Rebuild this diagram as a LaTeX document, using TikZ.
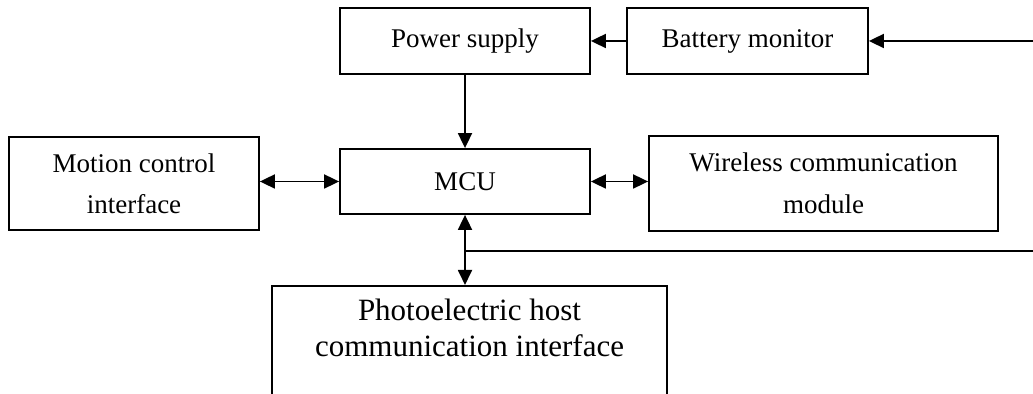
\documentclass[tikz,border=0pt]{standalone}
\usepackage{fontspec}
\setmainfont{Liberation Serif}
\usepackage{tikz}
\usetikzlibrary{arrows.meta,positioning,calc}

\begin{document}
\begin{tikzpicture}[
  x=0.5pt, y=-0.5pt,
  font=\fontsize{13.5pt}{20.5pt}\selectfont,
  block/.style={draw=black, line width=0.9pt, align=center, inner sep=0pt},
  arr/.style={-{Triangle[length=7.5pt,width=7pt]}, line width=0.9pt},
  biarr/.style={{Triangle[length=7.5pt,width=7pt]}-{Triangle[length=7.5pt,width=7pt]}, line width=0.9pt}
]
\useasboundingbox (0,0) rectangle (1033,394);
% ---- top row: supply chain ----
\node[block, minimum width=125pt, minimum height=33pt] (power) at (465,41) {Power supply};
\node[block, minimum width=120.5pt, minimum height=33pt] (batt) at (747.5,41) {Battery monitor};
\coordinate (battin) at (1033,41);
\draw[arr] (batt) -- (power);
\draw[arr] (battin) -- (batt.east);
% ---- middle row ----
\node[block, minimum width=125pt, minimum height=32.5pt] (mcu) at (465,181.5) {MCU};
\node[block, minimum width=125pt, minimum height=46.5pt] (motion) at (134,183.5)
  {Motion control\\ interface};
\node[block, minimum width=174.5pt, minimum height=47.5pt,
      font=\fontsize{13.5pt}{21pt}\selectfont] (wireless) at (823.5,183.5)
  {Wireless communication\\ module};
\draw[arr] (power) -- (mcu);
\draw[biarr] (mcu.west -| motion.east) -- (mcu.west);
\draw[biarr] (mcu.east) -- (mcu.east -| wireless.west);
% ---- bottom: host interface + bus ----
\node[block, anchor=north, minimum width=197.5pt, inner xsep=0pt, inner ysep=6.5pt,
      text depth=60pt, font=\fontsize{15.5pt}{18pt}\selectfont] (photo) at (469.5,285)
  {Photoelectric host\\ communication interface};
\coordinate (bus) at (465,251);
\coordinate (busout) at (1033,251);
\draw[biarr] (bus |- mcu.south) -- (bus |- photo.north);
\draw[line width=0.9pt] (bus) -- (busout);
\end{tikzpicture}
\end{document}
